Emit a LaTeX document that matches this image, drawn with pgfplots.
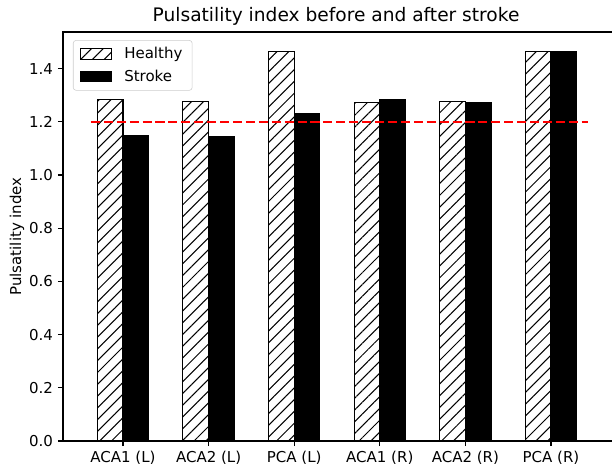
\documentclass[border=0pt]{standalone}
\usepackage{fontspec}
\setmainfont{DejaVu Sans}
\usepackage{pgfplots}
\pgfplotsset{compat=1.18}
\usetikzlibrary{patterns.meta}

\pgfplotstableread{
x healthy stroke
0 1.284 1.149
1 1.276 1.146
2 1.464 1.233
3 1.272 1.284
4 1.277 1.272
5 1.465 1.465
}\pidata

\begin{document}
\begin{tikzpicture}[x=1pt,y=1pt]
\begin{axis}[
  at={(0,0)}, anchor=south west,
  scale only axis, width=420pt, height=294.5pt,
  xmin=-0.701, xmax=6.114, ymin=0, ymax=1.538,
  xtick={0,1,2,3,4,5},
  xticklabels={ACA1 (L),ACA2 (L),PCA (L),ACA1 (R),ACA2 (R),PCA (R)},
  ytick={0,0.2,0.4,0.6,0.8,1.0,1.2,1.4},
  yticklabel style={/pgf/number format/.cd,fixed,fixed zerofill,precision=1},
  /pgf/number format/assume math mode=true,
  tick label style={font=\fontsize{10.8}{13}\selectfont, black},
  xtick pos=bottom, ytick pos=left,
  tick align=outside,
  major tick length=3.7pt,
  every tick/.style={black, line width=0.85pt},
  axis line style={black, line width=0.85pt},
  title={Pulsatility index before and after stroke},
  title style={font=\fontsize{13.4}{16}\selectfont, at={(axis description cs:0.4681,1)}, anchor=base, yshift=1.7pt},
  ylabel={Pulsatility index},
  every axis y label/.style={at={(axis description cs:-0.0788,0.5)}, rotate=90, anchor=center, font=\fontsize{10.8}{13}\selectfont},
  legend cell align=left,
  legend style={at={(0.0171,0.980)}, anchor=north west, draw=black!20, rounded corners=2pt,
    fill=white, font=\fontsize{10.8}{13}\selectfont, row sep=2.5pt, column sep=7pt, inner xsep=5pt, inner ysep=3pt},
  mylegend/.style={legend image code/.code={\draw[##1, sharp corners] (0pt,-3.8pt) rectangle (22pt,3.8pt);}},
]
\addplot[ybar, bar width=0.3, bar shift=-0.15, draw=black, line width=0.75pt, fill=white,
  postaction={pattern={Lines[angle=45,distance=6pt,line width=0.75pt]}}, mylegend]
  table[x=x, y=healthy] {\pidata};
\addlegendentry{Healthy}
\addplot[ybar, bar width=0.3, bar shift=0.15, draw=black, line width=0.75pt, fill=black, mylegend]
  table[x=x, y=stroke] {\pidata};
\addlegendentry{Stroke}
\addplot[red, line width=1.7pt, dash pattern=on 6.5pt off 2.8pt, forget plot]
  coordinates {(-0.375,1.2) (5.43,1.2)};
\end{axis}
\pgfresetboundingbox
\path[use as bounding box] (-45.36pt,-20.88pt) rectangle (395.28pt,317.52pt);
\end{tikzpicture}
\end{document}
